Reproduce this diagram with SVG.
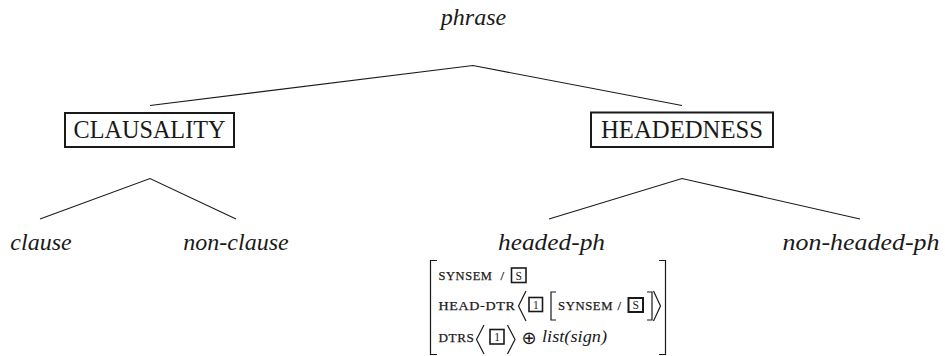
<svg xmlns="http://www.w3.org/2000/svg" width="945" height="356" viewBox="0 0 945 356">
<style>
  .it { font-family: "Liberation Serif", "DejaVu Serif", serif; font-style: italic; font-size: 24px; fill: #1a1a1a; text-anchor: middle; }
  .rm { font-family: "Liberation Serif", "DejaVu Serif", serif; font-size: 24.5px; fill: #1a1a1a; text-anchor: middle; }
  .sc { font-family: "Liberation Serif", "DejaVu Serif", serif; font-size: 12.8px; fill: #1a1a1a; letter-spacing: 0.6px; stroke: #1a1a1a; stroke-width: 0.25; }
  .tag { font-family: "Liberation Serif", "DejaVu Serif", serif; font-size: 11.5px; fill: #1a1a1a; text-anchor: middle; }
  .li { font-family: "Liberation Serif", "DejaVu Serif", serif; font-style: italic; font-size: 17px; fill: #1a1a1a; }
  .box { fill: none; stroke: #1a1a1a; stroke-width: 2; }
  .tbox { fill: none; stroke: #1a1a1a; stroke-width: 1.6; }
  .edge { fill: none; stroke: #1a1a1a; stroke-width: 1.1; }
  .brk { fill: none; stroke: #1a1a1a; stroke-width: 1.2; }
</style>
<g id="connectors">
  <polyline class="edge" points="150,105.5 473,65.5 682,105.5"/>
  <polyline class="edge" points="40,219 150,178.5 236,219"/>
  <polyline class="edge" points="549,219 682,178.5 860,219"/>
</g>
<g id="phrase"><text class="it" x="473.5" y="25">phrase</text></g>
<g id="clausality">
  <rect class="box" x="65" y="113" width="169" height="34"/>
  <text class="rm" x="149.5" y="138" textLength="152" lengthAdjust="spacingAndGlyphs">CLAUSALITY</text>
</g>
<g id="headedness">
  <rect class="box" x="591" y="112.5" width="182" height="34.5"/>
  <text class="rm" x="682" y="138" textLength="162" lengthAdjust="spacingAndGlyphs">HEADEDNESS</text>
</g>
<g id="clause"><text class="it" x="41" y="250">clause</text></g>
<g id="non-clause"><text class="it" x="236" y="250">non-clause</text></g>
<g id="headed-ph"><text class="it" x="551.5" y="250" textLength="107" lengthAdjust="spacingAndGlyphs">headed-ph</text></g>
<g id="non-headed-ph"><text class="it" x="861" y="250" textLength="157" lengthAdjust="spacingAndGlyphs">non-headed-ph</text></g>
<g id="avm">
  <polyline class="brk" points="437,260.5 430.5,260.5 430.5,354.5 437,354.5"/>
  <polyline class="brk" points="659,260.5 665.5,260.5 665.5,354.5 659,354.5"/>
  <!-- row 1 -->
  <text class="sc" x="438.5" y="280" textLength="54" lengthAdjust="spacingAndGlyphs">SYNSEM</text>
  <text class="sc" x="500.5" y="280">/</text>
  <rect class="tbox" x="511.5" y="268" width="14.5" height="14.5"/>
  <text class="tag" x="518.8" y="279.5">S</text>
  <!-- row 2 -->
  <text class="sc" x="438.5" y="310" textLength="77" lengthAdjust="spacingAndGlyphs">HEAD-DTR</text>
  <polyline class="brk" points="526,291 518.5,306 526,321"/>
  <rect class="tbox" x="529" y="297.5" width="13.5" height="14"/>
  <text class="tag" x="535.8" y="308.8">1</text>
  <polyline class="brk" points="556,292 551,292 551,320 556,320"/>
  <text class="sc" x="558" y="310" textLength="55" lengthAdjust="spacingAndGlyphs">SYNSEM</text>
  <text class="sc" x="617.5" y="310">/</text>
  <rect class="box" x="628.5" y="298" width="14.5" height="14"/>
  <text class="tag" x="635.8" y="309.3">S</text>
  <polyline class="brk" points="647,292 652,292 652,320 647,320"/>
  <polyline class="brk" points="653.5,291 660.5,306 653.5,321"/>
  <!-- row 3 -->
  <text class="sc" x="438.5" y="342" textLength="36" lengthAdjust="spacingAndGlyphs">DTRS</text>
  <polyline class="brk" points="484,325 476.5,339.5 484,354"/>
  <rect class="tbox" x="490" y="329.5" width="14" height="14.5"/>
  <text class="tag" x="497" y="341">1</text>
  <polyline class="brk" points="507.5,325 515,339.5 507.5,354"/>
  <text x="529" y="344" font-family="DejaVu Sans, sans-serif" font-size="18" fill="#1a1a1a" text-anchor="middle">⊕</text>
  <text class="li" x="542" y="342" textLength="65" lengthAdjust="spacingAndGlyphs">list(sign)</text>
</g>
</svg>
